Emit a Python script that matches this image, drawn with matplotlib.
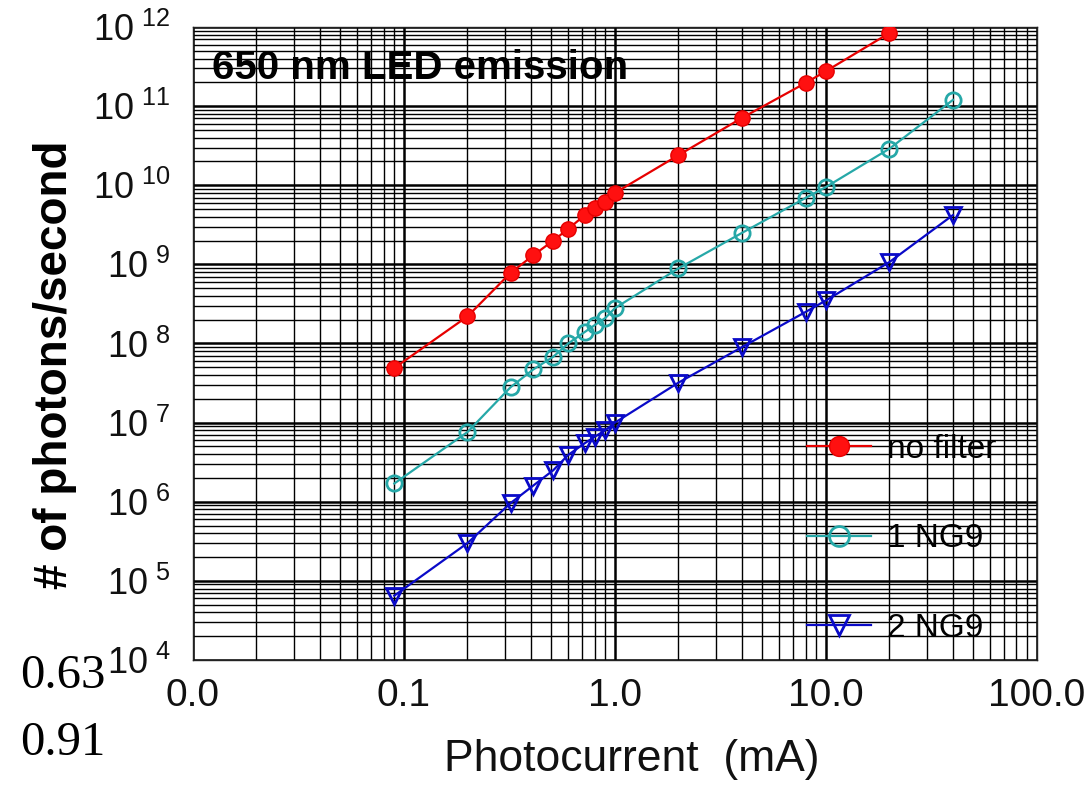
import math
import matplotlib
matplotlib.use('Agg')
import matplotlib.pyplot as plt
from matplotlib.ticker import LogLocator, FuncFormatter, NullFormatter

plt.rcParams['font.family'] = ['Liberation Sans', 'DejaVu Sans']
plt.rcParams['mathtext.fontset'] = 'custom'
plt.rcParams['mathtext.rm'] = 'Liberation Sans'
plt.rcParams['mathtext.default'] = 'regular'

# photocurrent (mA) where the points were taken
current = [0.09, 0.2, 0.32, 0.41, 0.51, 0.6, 0.72, 0.8, 0.9, 1.0, 2.0, 4.0, 8.0, 10.0, 20.0]
current_ng = current + [40.0]

# photons per second for each filter setting
no_filter = [4.9e7, 2.2e8, 7.8e8, 1.3e9, 2.0e9, 2.8e9, 4.2e9, 5.1e9, 6.2e9, 8.0e9,
             2.4e10, 7.1e10, 1.96e11, 2.77e11, 8.4e11]
one_ng9 = [1.7e6, 7.6e6, 2.8e7, 4.7e7, 6.8e7, 1.0e8, 1.4e8, 1.7e8, 2.1e8, 2.8e8,
           8.9e8, 2.5e9, 6.9e9, 9.5e9, 2.9e10, 1.2e11]
two_ng9 = [6.5e4, 3.0e5, 9.6e5, 1.6e6, 2.5e6, 3.9e6, 5.5e6, 6.6e6, 8.0e6, 1.0e7,
           3.2e7, 9.0e7, 2.5e8, 3.5e8, 1.07e9, 4.2e9]

fig = plt.figure(figsize=(10.89, 7.90), dpi=100)
ax = fig.add_axes([0.1772, 0.1646, 0.7750, 0.8012])

ax.plot(current, no_filter, color='#e60000', lw=1.6, marker='o', ms=11,
        mfc='#ff1010', mec='#e60000', label='no filter', zorder=5)
ax.plot(current_ng, one_ng9, color='#26a8a8', lw=1.6, marker='o', ms=11,
        mfc='none', mec='#26a8a8', mew=2, label='1 NG9', zorder=5)
ax.plot(current_ng, two_ng9, color='#0a0ac8', lw=1.6, marker='v', ms=11,
        mfc='none', mec='#0a0ac8', mew=2, label='2 NG9', zorder=5)

ax.set_xscale('log')
ax.set_yscale('log')
ax.set_xlim(0.01, 100)
ax.set_ylim(1e4, 1e12)

ax.xaxis.set_major_locator(LogLocator(base=10, numticks=10))
ax.xaxis.set_minor_locator(LogLocator(base=10, subs=range(2, 10), numticks=20))
ax.yaxis.set_major_locator(LogLocator(base=10, numticks=20))
ax.yaxis.set_minor_locator(LogLocator(base=10, subs=range(2, 10), numticks=40))
ax.xaxis.set_major_formatter(FuncFormatter(lambda v, p: '%.1f' % v))
ax.yaxis.set_major_formatter(FuncFormatter(lambda v, p: '10$^{\\ %d}$' % round(math.log10(v))))
ax.xaxis.set_minor_formatter(NullFormatter())
ax.yaxis.set_minor_formatter(NullFormatter())

ax.tick_params(which='both', length=0)
ax.tick_params(axis='x', labelsize=28, pad=13, colors='#111111')
ax.tick_params(axis='y', labelsize=26, pad=16, colors='#111111')

ax.grid(which='major', color='black', lw=1.8)
ax.grid(which='minor', color='black', lw=1.0)
ax.set_axisbelow(True)
for s in ax.spines.values():
    s.set_color('#222222')
    s.set_linewidth(1.0)

ax.set_xlabel('Photocurrent  (mA)', fontsize=32, color='#111111')
ax.xaxis.set_label_coords(0.52, -0.125)
ax.set_ylabel('# of photons/second', fontsize=33, fontweight='bold')
ax.yaxis.set_label_coords(-0.138, 0.466)

ax.text(0.022, 0.935, '650 nm LED emission', transform=ax.transAxes,
        fontsize=29, fontweight='bold', va='center', ha='left')

ax.legend(loc='upper left', bbox_to_anchor=(0.728, 0.357), frameon=False,
          fontsize=24, labelspacing=1.75, handlelength=1.9, handletextpad=0.5,
          borderpad=0, borderaxespad=0, markerscale=1.3)

fig.text(20 / 1089, 1 - 676 / 790, '0.63', family='Liberation Serif', fontsize=35,
         va='center', ha='left')
fig.text(20 / 1089, 1 - 743 / 790, '0.91', family='Liberation Serif', fontsize=35,
         va='center', ha='left')

fig.savefig('out.png', dpi=100)
